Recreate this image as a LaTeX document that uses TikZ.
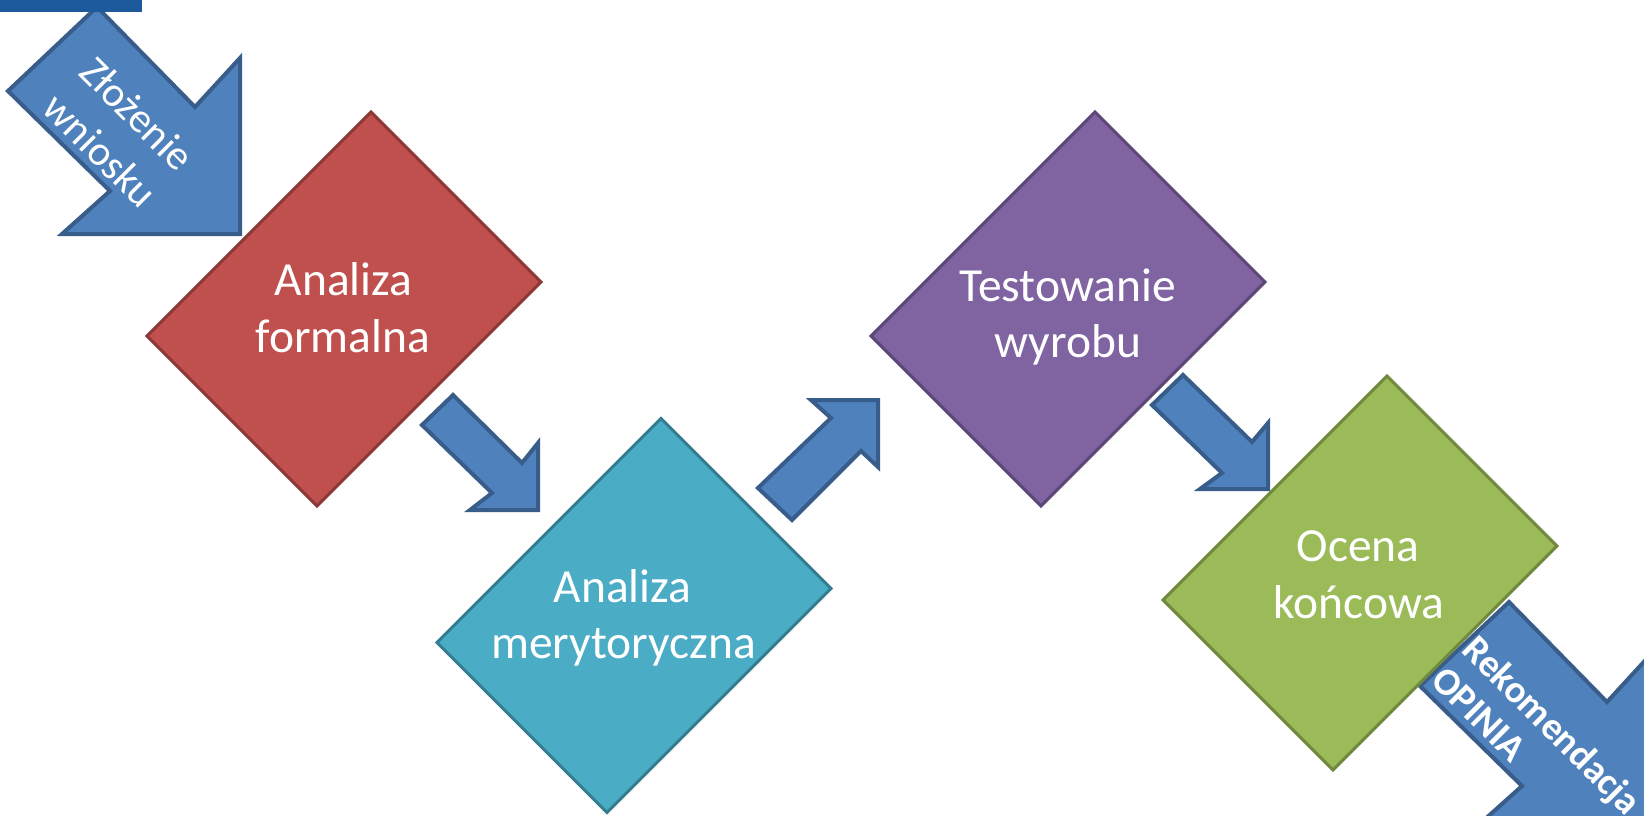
\documentclass[tikz,border=0pt]{standalone}
\usepackage{fontspec}
\setmainfont{Carlito}
\definecolor{arrowfill}{HTML}{4F81BD}
\definecolor{arrowline}{HTML}{385D8A}
\definecolor{redfill}{HTML}{C0504D}
\definecolor{redline}{HTML}{8C3836}
\definecolor{tealfill}{HTML}{4BACC6}
\definecolor{tealline}{HTML}{357D91}
\definecolor{purplefill}{HTML}{8064A2}
\definecolor{purpleline}{HTML}{5C4776}
\definecolor{greenfill}{HTML}{9BBB59}
\definecolor{greenline}{HTML}{71893F}
\definecolor{barblue}{HTML}{1C5A9C}
\begin{document}
\begin{tikzpicture}[x=1pt,y=-1pt,
  blockarrow/.style={fill=arrowfill,draw=arrowline,line width=4pt,line join=miter},
  diamondbox/.style={line width=3pt,line join=miter},
  dtext/.style={text=white,font=\fontsize{47.5}{56}\selectfont,inner sep=0pt,anchor=base},
  atext/.style={text=white,font=\fontsize{42}{52}\selectfont,inner sep=0pt,rotate=-45,align=center},
  btext/.style={text=white,font=\bfseries\fontsize{38.5}{45}\selectfont,inner sep=0pt,rotate=-45,anchor=base west},
  pics/rdiamond/.style args={#1/#2}{code={
    \draw[diamondbox,fill=#1,draw=#2] (27,-197) -- (197,-27) -- (-27,197) -- (-197,27) -- cycle;}}
]
\useasboundingbox (0,0) rectangle (1644,816);
\begin{scope}
\clip (0,0) rectangle (1644,816);
% block arrows
\draw[blockarrow] (97,7) -- (195,107) -- (240,58) -- (240,234) -- (62,234) -- (110,191) -- (8,91) -- cycle;
\fill[barblue] (0,0) rectangle (142,12);
\draw[blockarrow] (453,395) -- (522,463) -- (538,443) -- (538,510) -- (470,510) -- (492,493) -- (422,425) -- cycle;
\draw[blockarrow] (758,488) -- (792,520) -- (861,451) -- (878,467) -- (878,400) -- (811,400) -- (831,418) -- cycle;
\draw[blockarrow] (1183,375) -- (1252,442) -- (1268,423) -- (1268,489) -- (1200,489) -- (1222,473) -- (1152,405) -- cycle;
\draw[blockarrow] (1509,602) -- (1607,702) -- (1652,653) -- (1652,829) -- (1474,829) -- (1522,786) -- (1420,686) -- cycle;
% diamonds
\coordinate (red) at (344,309);
\coordinate (teal) at (634,615.5);
\coordinate (purple) at (1068,309);
\coordinate (green) at (1360,573);
\pic at (red) {rdiamond=redfill/redline};
\pic at (teal) {rdiamond=tealfill/tealline};
\pic at (purple) {rdiamond=purplefill/purpleline};
\pic at (green) {rdiamond=greenfill/greenline};
% texts
\node[dtext] (af1) at (343.5,295) {Analiza};
\node[dtext] (af2) at (343,352) {formalna};
\node[dtext] (am1) at (622.5,602) {Analiza};
\node[dtext] (am2) at (623.5,658) {merytoryczna};
\node[dtext] (tw1) at (1067.5,301) {Testowanie};
\node[dtext] (tw2) at (1068,357) {wyrobu};
\node[dtext] (ok1) at (1358,561) {Ocena};
\node[dtext] (ok2) at (1359,618) {końcowa};
\node[atext] (zw) at (119,132) {Złożenie\\wniosku};
\node[btext] (rk1) at (1460.2,651.2) {Rekomendacja};
\node[btext] (rk2) at (1429.1,682.4) {OPINIA};
\end{scope}
\end{tikzpicture}
\end{document}
